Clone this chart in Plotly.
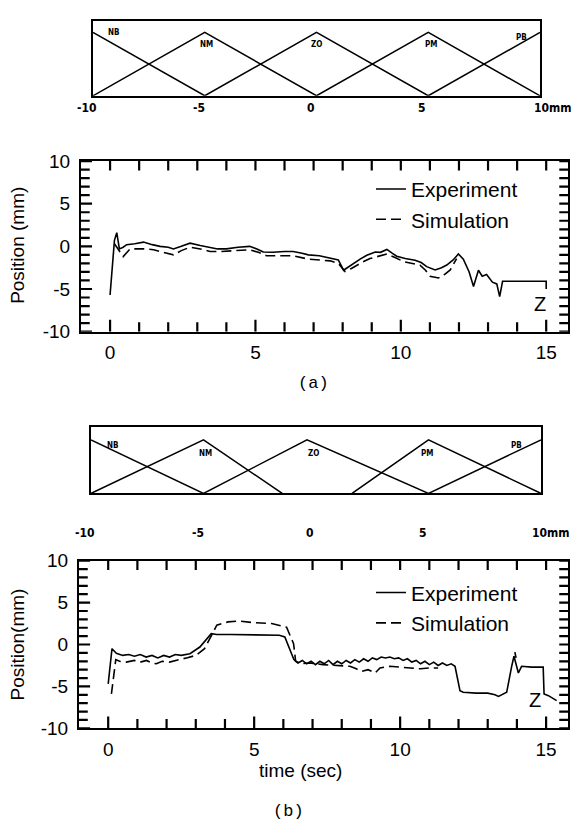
import plotly.graph_objects as go

# ---------------- data ----------------
exp_a_t = [0.0, 0.15, 0.23, 0.32, 0.45, 0.57, 0.85, 1.15, 1.45, 1.72, 2.0, 2.18, 2.45, 2.75, 3.1,
           3.44, 3.7, 4.0, 4.4, 4.8, 5.05, 5.27, 5.6, 6.0, 6.3, 6.6, 6.82, 7.2, 7.57, 7.85, 8.03,
           8.2, 8.37, 8.6, 8.83, 9.12, 9.3, 9.52, 9.7, 9.86, 10.15, 10.49, 10.7, 10.89, 11.18,
           11.4, 11.58, 11.8, 11.98, 12.15, 12.35, 12.5, 12.67, 12.8, 12.95, 13.15, 13.3, 13.4,
           13.5, 14.2, 15.0, 15.0]
exp_a_v = [-5.7, 0.7, 1.6, -0.3, -0.1, 0.2, 0.3, 0.5, 0.2, 0.0, -0.1, -0.3, 0.0, 0.37, 0.1,
           -0.17, -0.3, -0.3, -0.1, 0.0, -0.3, -0.67, -0.7, -0.6, -0.6, -0.8, -1.0, -1.1, -1.4, -1.6, -2.8,
           -2.4, -2.0, -1.5, -1.05, -0.67, -0.7, -0.36, -0.8, -1.16, -1.43, -1.62, -1.9, -2.38, -2.76,
           -2.5, -2.19, -1.6, -0.9, -1.5, -3.0, -4.7, -2.8, -3.5, -3.3, -4.2, -4.4, -5.9,
           -4.1, -4.1, -4.1, -5.0]
sim_a_t = [0.15, 0.3, 0.45, 0.69, 1.0, 1.26, 1.5, 1.72, 2.0, 2.18, 2.45, 2.75, 3.1, 3.44, 3.8, 4.2,
           4.8, 5.1, 5.38, 5.8, 6.3, 6.82, 7.2, 7.57, 7.85, 8.08, 8.3, 8.49, 8.7, 8.94, 9.2, 9.52,
           9.8, 10.1, 10.4, 10.66, 10.85, 11.0, 11.3, 11.5, 11.7, 11.92]
sim_a_v = [0.3, -0.5, -1.2, -0.3, -0.3, -0.3, -0.4, -0.6, -0.8, -1.0, -0.5, -0.1, -0.3, -0.6, -0.6, -0.5,
           -0.4, -0.7, -1.1, -1.1, -1.1, -1.5, -1.6, -1.7, -2.0, -2.95, -2.6, -2.2, -1.8, -1.43, -1.2, -0.9,
           -1.3, -1.8, -2.0, -2.2, -2.8, -3.5, -3.7, -3.3, -2.76, -1.43]

exp_b_t = [0.0, 0.13, 0.28, 0.5, 0.7, 0.9, 1.1, 1.3, 1.5, 1.7, 1.9, 2.1, 2.3, 2.5, 2.8, 3.14, 3.53,
           3.72, 4.2, 4.8, 5.4, 5.86, 6.05, 6.24, 6.36, 6.5, 6.65, 6.8, 6.95, 7.1, 7.25, 7.4, 7.55,
           7.7, 7.85, 8.0, 8.15, 8.3, 8.45, 8.6, 8.75, 8.9, 9.05, 9.2, 9.35, 9.5, 9.65, 9.8, 9.95,
           10.1, 10.25, 10.4, 10.55, 10.7, 10.85, 11.0, 11.15, 11.3, 11.45, 11.6, 11.75, 11.88,
           12.05, 12.16, 12.6, 13.0, 13.25, 13.37, 13.65, 13.82, 13.9, 14.05, 14.16, 14.5, 14.9,
           14.93, 15.08, 15.36]
exp_b_v = [-4.7, -0.5, -1.05, -1.3, -1.2, -1.4, -1.2, -1.5, -1.3, -1.6, -1.3, -1.5, -1.2, -1.3, -1.1,
           -0.3, 1.3, 1.2, 1.2, 1.15, 1.1, 1.1, 0.9, -0.7, -1.8, -2.2, -1.9, -2.3, -2.0, -2.4, -2.0,
           -2.3, -1.9, -2.4, -2.0, -2.3, -1.9, -2.2, -1.8, -2.1, -1.7, -2.0, -1.6, -1.8, -1.5, -1.6,
           -1.5, -1.7, -1.6, -1.9, -1.7, -2.1, -1.9, -2.3, -2.0, -2.4, -2.1, -2.5, -2.2, -2.5, -2.3,
           -2.6, -5.5, -5.7, -5.8, -5.8, -6.0, -6.2, -5.7, -2.6, -1.4, -3.4, -2.6, -2.7, -2.7,
           -5.9, -6.1, -6.7]
sim_b_t = [0.11, 0.26, 0.39, 0.62, 0.9, 1.1, 1.31, 1.5, 1.65, 1.85, 2.1, 2.4, 2.68, 3.0, 3.3, 3.72,
           4.1, 4.47, 5.0, 5.6, 6.11, 6.35, 6.42, 6.6, 6.9, 7.36, 7.8, 8.28, 8.5, 8.68, 8.9, 9.14,
           9.31, 9.65, 10.0, 10.34, 10.7, 11.02, 11.3, None, 13.93, 13.97]
sim_b_v = [-5.9, -1.8, -2.0, -2.1, -1.9, -2.1, -1.9, -2.2, -2.3, -2.0, -2.1, -1.8, -1.6, -1.3, -0.5, 2.3,
           2.7, 2.8, 2.6, 2.5, 2.06, 0.1, -2.0, -2.3, -2.2, -2.4, -2.5, -2.6, -2.9, -3.2, -3.0, -3.4,
           -2.8, -2.6, -2.7, -2.8, -2.9, -2.8, -2.8, None, -0.9, -1.6]

mf_names = ["NB", "NM", "ZO", "PM", "PB"]
mf_a_x = [[-10, -5], [-10, -5, 0], [-5, 0, 5], [0, 5, 10], [5, 10]]
mf_b_x = [[-10, -5], [-10, -5, -1.5], [-5, -0.4, 5], [1.6, 5, 10], [5, 10]]
mf_y = [[1, 0], [0, 1, 0], [0, 1, 0], [0, 1, 0], [0, 1]]
mf_tick_vals = [-10, -5, 0, 5, 10]
mf_tick_text = ["-10", "-5", "0", "5", "10mm"]

time_ticks = list(range(0, 16))          # tick marks every second
time_labels = [0, 5, 10, 15]
pos_ticks = list(range(-10, 11))         # tick marks every mm
pos_labels = [-10, -5, 0, 5, 10]
series_names = ["Experiment", "Simulation"]

# ---------------- figure ----------------
W, H = 577, 829
def px(x):
    return x / W
def py(y):
    return 1 - y / H

FONT = "Liberation Sans, Arial, sans-serif"
LW = 1.6
DASH = "10px,5px"
XR = [-1, 15.75]
YR = [-10, 10]

fig = go.Figure()
fig.add_trace(go.Scatter(x=exp_a_t, y=exp_a_v, mode="lines", name=series_names[0],
                         line=dict(color="black", width=LW), xaxis="x", yaxis="y",
                         legend="legend", legendgroup="a1"))
fig.add_trace(go.Scatter(x=sim_a_t, y=sim_a_v, mode="lines", name=series_names[1],
                         line=dict(color="black", width=LW, dash=DASH), xaxis="x", yaxis="y",
                         legend="legend", legendgroup="a2"))
fig.add_trace(go.Scatter(x=exp_b_t, y=exp_b_v, mode="lines", name=series_names[0],
                         line=dict(color="black", width=LW), xaxis="x2", yaxis="y2",
                         legend="legend2", legendgroup="b1"))
fig.add_trace(go.Scatter(x=sim_b_t, y=sim_b_v, mode="lines", name=series_names[1],
                         line=dict(color="black", width=LW, dash=DASH), xaxis="x2", yaxis="y2",
                         legend="legend2", legendgroup="b2", connectgaps=False))
for xs, ys in zip(mf_a_x, mf_y):
    fig.add_trace(go.Scatter(x=xs, y=ys, mode="lines", line=dict(color="black", width=1.5),
                             xaxis="x3", yaxis="y3", showlegend=False, hoverinfo="skip"))
for xs, ys in zip(mf_b_x, mf_y):
    fig.add_trace(go.Scatter(x=xs, y=ys, mode="lines", line=dict(color="black", width=1.5),
                             xaxis="x4", yaxis="y4", showlegend=False, hoverinfo="skip"))

# inside tick marks on all four sides, built from the tick lists in axis units
def tick_segments():
    xs, ys = [], []
    for t in time_ticks:
        ln = 1.4 if t % 5 == 0 else 1.1
        xs += [t, t, None, t, t, None]
        ys += [YR[0], YR[0] + ln, None, YR[1], YR[1] - 1.1, None]
    for v in pos_ticks:
        ln = 0.38 if v % 5 == 0 else 0.3
        xs += [XR[0], XR[0] + ln, None, XR[1], XR[1] - 0.3, None]
        ys += [v, v, None, v, v, None]
    return xs, ys

tx, ty = tick_segments()
for xr, yr in (("x", "y"), ("x2", "y2")):
    fig.add_trace(go.Scatter(x=tx, y=ty, mode="lines", line=dict(color="black", width=2.2),
                             xaxis=xr, yaxis=yr, showlegend=False, hoverinfo="skip",
                             connectgaps=False, cliponaxis=False))

tickfont = dict(family=FONT, size=19, color="black")

def plot_axis(dom, anchor, rng, vals, standoff):
    return dict(domain=dom, anchor=anchor, range=rng, showline=True, linewidth=2,
                linecolor="black", mirror=True, ticks="", tickmode="array", tickvals=vals,
                ticktext=[str(v) for v in vals], tickfont=tickfont, showgrid=False,
                zeroline=False, ticklabelstandoff=standoff)

def mf_xaxis(dom, anchor):
    return dict(domain=dom, anchor=anchor, range=[-10, 10], showline=True, linewidth=2,
                linecolor="black", mirror=True, ticks="", showticklabels=False,
                showgrid=False, zeroline=False)

def mf_yaxis(dom, anchor, top):
    return dict(domain=dom, anchor=anchor, range=[0, top], showline=True, linewidth=2,
                linecolor="black", mirror=True, ticks="", showticklabels=False,
                showgrid=False, zeroline=False)

legend_common = dict(xanchor="left", yanchor="top", bgcolor="rgba(0,0,0,0)", borderwidth=0,
                     font=dict(family=FONT, size=21, color="black"), tracegroupgap=0,
                     traceorder="grouped", itemwidth=30)

fig.update_layout(
    width=W, height=H, margin=dict(l=0, r=0, t=0, b=0),
    paper_bgcolor="white", plot_bgcolor="white",
    xaxis=plot_axis([px(81), px(568)], "y", XR, time_labels, 3),
    yaxis=plot_axis([py(330), py(155)], "x", YR, pos_labels, 5),
    xaxis2=plot_axis([px(79), px(568)], "y2", XR, time_labels, 3),
    yaxis2=plot_axis([py(737), py(565)], "x2", YR, pos_labels, 5),
    xaxis3=mf_xaxis([px(93), px(540)], "y3"),
    yaxis3=mf_yaxis([py(88), py(11)], "x3", 1.185),
    xaxis4=mf_xaxis([px(91), px(541)], "y4"),
    yaxis4=mf_yaxis([py(496), py(428)], "x4", 1.236),
    legend=dict(x=px(371), y=py(163), **legend_common),
    legend2=dict(x=px(371), y=py(577), **legend_common),
    showlegend=True,
)

ann = []
def text(x, y, s, size=19, family=FONT, xref="paper", yref="paper", angle=0, xanchor="center",
         xshift=0, bold=False):
    ann.append(dict(x=x, y=y, xref=xref, yref=yref, text=("<b>%s</b>" % s) if bold else s,
                    showarrow=False, textangle=angle, xanchor=xanchor, yanchor="middle",
                    xshift=xshift, font=dict(family=family, size=size, color="black")))

text(px(18), py(242), "Position (mm)", angle=-90)
text(px(18), py(651), "Position(mm)", angle=-90)
text(px(300), py(780), "time (sec)")
text(px(313), py(383), "(a)", size=17, family="Liberation Mono, monospace")
text(px(288), py(822), "(b)", size=17, family="Liberation Mono, monospace")
text(14.8, -6.8, "Z", xref="x", yref="y", size=20)
text(14.62, -6.6, "Z", xref="x2", yref="y2", size=20)

MF_FONT = "DejaVu Sans Condensed, DejaVu Sans, sans-serif"
for v, s in zip(mf_tick_vals, mf_tick_text):
    if s.endswith("mm"):
        text(v, py(101), s, size=12, family=MF_FONT, xref="x3", xanchor="left", xshift=-8, bold=True)
        text(v, py(537), s, size=12, family=MF_FONT, xref="x4", xanchor="left", xshift=-11, bold=True)
    else:
        text(v, py(101), s, size=12, family=MF_FONT, xref="x3", xshift=-6, bold=True)
        text(v, py(537), s, size=12, family=MF_FONT, xref="x4", xshift=-6, bold=True)

lab_a = [(-9.06, 1.0), (-4.94, 0.815), (0.02, 0.815), (5.12, 0.815), (9.15, 0.92)]
lab_b = [(-9.02, 0.9), (-4.93, 0.75), (-0.13, 0.75), (4.93, 0.75), (8.89, 0.9)]
for name, (lx, ly) in zip(mf_names, lab_a):
    ann.append(dict(x=lx, y=ly, xref="x3", yref="y3", text="<b>%s</b>" % name, showarrow=False,
                    font=dict(family=MF_FONT, size=8, color="black")))
for name, (lx, ly) in zip(mf_names, lab_b):
    ann.append(dict(x=lx, y=ly, xref="x4", yref="y4", text="<b>%s</b>" % name, showarrow=False,
                    font=dict(family=MF_FONT, size=8, color="black")))

fig.update_layout(annotations=ann)
fig.write_html("out.html")
